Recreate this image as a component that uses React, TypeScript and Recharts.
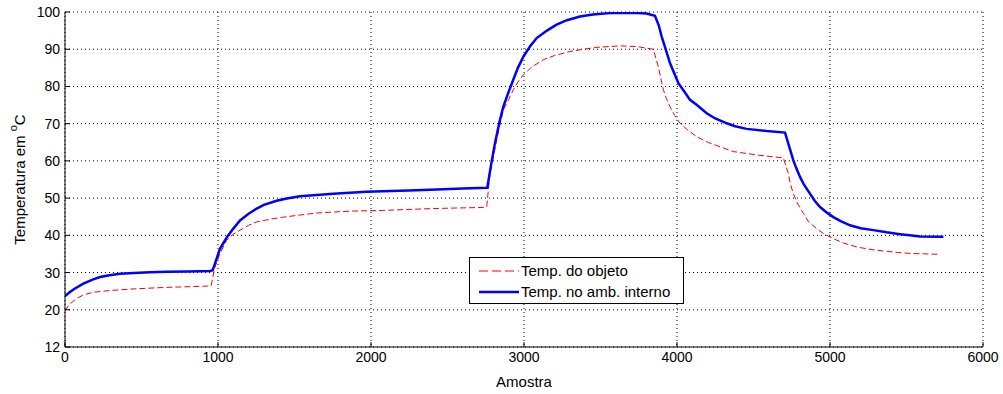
import { LineChart, Line, XAxis, YAxis, CartesianGrid } from 'recharts';

// Temp. no amb. interno (blue)
const internoAmostra = [0, 30, 60, 120, 180, 229, 290, 360, 450, 556, 665, 800, 948, 965, 1013, 1057, 1100, 1144, 1200, 1253, 1300, 1383, 1450, 1536, 1753, 1971, 2298, 2600, 2760, 2785, 2810, 2840, 2865, 2900, 2930, 2960, 2996, 3040, 3083, 3150, 3213, 3280, 3366, 3450, 3562, 3712, 3800, 3856, 3880, 3900, 3930, 3954, 4009, 4050, 4085, 4130, 4194, 4250, 4325, 4380, 4455, 4586, 4706, 4760, 4780, 4804, 4830, 4869, 4900, 4935, 4980, 5022, 5070, 5131, 5200, 5283, 5370, 5458, 5520, 5588, 5741];
const internoTemp = [23.7, 24.7, 25.6, 27.0, 28.1, 28.8, 29.3, 29.7, 29.9, 30.1, 30.2, 30.3, 30.4, 30.6, 36.4, 39.4, 41.8, 44.0, 45.8, 47.2, 48.2, 49.3, 49.9, 50.5, 51.2, 51.7, 52.1, 52.6, 52.8, 59.0, 64.7, 70.5, 74.6, 78.6, 81.8, 85.0, 88.0, 90.8, 93.0, 95.0, 96.6, 97.8, 98.8, 99.3, 99.7, 99.8, 99.6, 99.0, 96.5, 93.4, 89.5, 86.3, 80.9, 78.5, 76.4, 75.0, 72.8, 71.4, 70.1, 69.3, 68.6, 68.0, 67.6, 60.2, 58.0, 55.7, 53.6, 51.2, 49.3, 47.6, 46.1, 44.9, 43.8, 42.7, 41.9, 41.4, 40.8, 40.3, 40.0, 39.7, 39.6];

// Temp. do objeto (red, dashed)
const objetoAmostra = [0, 30, 76, 120, 185, 300, 446, 650, 882, 955, 980, 1013, 1057, 1100, 1144, 1200, 1253, 1350, 1427, 1645, 1863, 2080, 2407, 2734, 2756, 2778, 2800, 2821, 2865, 2900, 2930, 2960, 2996, 3050, 3127, 3200, 3301, 3390, 3475, 3627, 3740, 3845, 3878, 3895, 3911, 3930, 3954, 3985, 4020, 4070, 4129, 4200, 4281, 4368, 4521, 4695, 4728, 4740, 4760, 4790, 4826, 4860, 4913, 4960, 5022, 5090, 5174, 5250, 5348, 5440, 5544, 5719];
const objetoTemp = [19.8, 21.5, 23.0, 24.0, 24.7, 25.2, 25.6, 26.0, 26.3, 26.4, 31.5, 35.1, 38.7, 40.3, 41.4, 42.7, 43.6, 44.4, 44.9, 46.0, 46.5, 46.7, 47.2, 47.5, 47.6, 56.6, 61.0, 65.6, 73.7, 76.5, 79.1, 81.2, 83.1, 85.2, 87.2, 88.3, 89.4, 90.0, 90.5, 90.9, 90.7, 90.0, 85.3, 82.0, 79.1, 76.8, 74.6, 72.2, 70.1, 68.3, 66.5, 65.0, 63.8, 62.5, 61.6, 60.8, 56.6, 54.0, 51.2, 48.4, 45.9, 43.6, 41.8, 40.4, 39.1, 37.9, 36.9, 36.3, 35.8, 35.4, 35.1, 34.9];

const xTicks = [0, 1000, 2000, 3000, 4000, 5000, 6000];
const yTicks = [10, 20, 30, 40, 50, 60, 70, 80, 90, 100];
const legendLabels = ['Temp. do objeto', 'Temp. no amb. interno'];

const interno = internoAmostra.map((a, i) => ({ amostra: a, temp: internoTemp[i] }));
const objeto = objetoAmostra.map((a, i) => ({ amostra: a, temp: objetoTemp[i] }));

const FONT = '"Liberation Sans", Arial, sans-serif';

const YLabel = (props: any) => {
  const vb = props.viewBox || {};
  const cx = 19;
  const cy = vb.y + vb.height / 2;
  return (
    <text x={cx} y={cy} transform={`rotate(-90, ${cx}, ${cy})`} textAnchor="middle" dominantBaseline="central" fontSize={15} fontFamily={FONT} fill="#000">
      <tspan>Temperatura em </tspan>
      <tspan dy={-6} fontSize={11}>o</tspan>
      <tspan dy={6}>C</tspan>
    </text>
  );
};

const LegendBox = () => (
  <div style={{ position: 'absolute', left: 469, top: 257, width: 213, height: 45, border: '1px solid #000', background: '#fff', fontFamily: FONT, fontSize: 15, color: '#000' }}>
    <div style={{ display: 'flex', alignItems: 'center', height: 21, marginTop: 2 }}>
      <svg width={51} height={10}>
        <line x1={9} y1={5} x2={49} y2={5} stroke="#ff0000" strokeWidth={1} strokeDasharray="9 4" />
      </svg>
      <span>{legendLabels[0]}</span>
    </div>
    <div style={{ display: 'flex', alignItems: 'center', height: 21 }}>
      <svg width={51} height={10}>
        <line x1={9} y1={5} x2={49} y2={5} stroke="#0000ff" strokeWidth={2.5} />
      </svg>
      <span>{legendLabels[1]}</span>
    </div>
  </div>
);

export default function App() {
  return (
    <div style={{ position: 'absolute', left: 0, top: 0, width: 1003, height: 394, background: '#fff' }}>
      <LineChart width={1003} height={394} margin={{ top: 12, right: 20, left: 0, bottom: 0 }}>
        <CartesianGrid stroke="#000" strokeDasharray="1 3" />
        <XAxis
          type="number"
          dataKey="amostra"
          domain={[0, 6000]}
          ticks={xTicks}
          height={47}
          stroke="#000"
          tickSize={-5}
          tickMargin={10}
          tick={{ fill: '#000', fontSize: 14, fontFamily: FONT }}
          label={{ value: 'Amostra', position: 'insideBottom', offset: 7, fill: '#000', fontSize: 15, fontFamily: FONT }}
          allowDataOverflow
        />
        <YAxis
          type="number"
          domain={[10, 100]}
          ticks={yTicks}
          width={65}
          stroke="#000"
          tickSize={-5}
          tickMargin={10}
          tick={{ fill: '#000', fontSize: 14, fontFamily: FONT }}
          tickFormatter={(v) => (v === 10 ? '12' : String(v))}
          label={{ content: (p: any) => <YLabel {...p} /> }}
          allowDataOverflow
        />
        <Line data={objeto} dataKey="temp" type="linear" stroke="#ff0000" strokeWidth={1} strokeDasharray="6 3" dot={false} isAnimationActive={false} />
        <Line data={interno} dataKey="temp" type="linear" stroke="#0000ff" strokeWidth={2.5} dot={false} isAnimationActive={false} />
      </LineChart>
      <LegendBox />
    </div>
  );
}
